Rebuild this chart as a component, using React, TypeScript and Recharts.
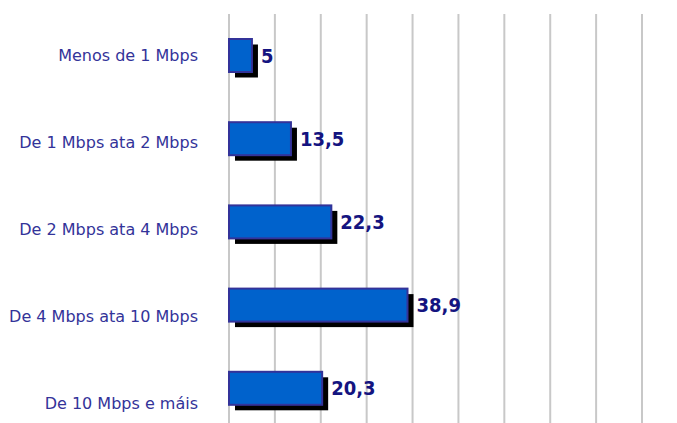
import React from "react";
import {
  BarChart,
  Bar,
  XAxis,
  YAxis,
  CartesianGrid,
  LabelList,
} from "recharts";

const categories = [
  "Menos de 1 Mbps",
  "De 1 Mbps ata 2 Mbps",
  "De 2 Mbps ata 4 Mbps",
  "De 4 Mbps ata 10 Mbps",
  "De 10 Mbps e máis",
];
const values = [5, 13.5, 22.3, 38.9, 20.3];
const xTicks = [0, 10, 20, 30, 40, 50, 60, 70, 80, 90];

const data = categories.map((name, i) => ({ name, value: values[i] }));

// bar with a hard black drop shadow behind it
const ShadowBar = (props: any) => {
  const { x, y, width, height } = props;
  return (
    <g>
      <rect x={x + 6} y={y + 5.5} width={width} height={height} fill="#000" />
      <rect
        x={x}
        y={y}
        width={width}
        height={height}
        fill="#0062cc"
        stroke="#333399"
        strokeWidth={2}
      />
    </g>
  );
};

const CategoryTick = (props: any) => {
  const { x, y, payload, index } = props;
  return (
    <text
      x={x - 31}
      y={y + index * 3.6}
      dy="0.36em"
      textAnchor="end"
      fill="#333399"
      fontSize={16}
      fontFamily="DejaVu Sans"
    >
      {payload.value}
    </text>
  );
};

export default function App() {
  return (
    <div
      style={{
        position: "fixed",
        top: 0,
        left: 0,
        width: 677,
        height: 423,
        overflow: "hidden",
        background: "#fff",
      }}
    >
      <BarChart
        width={677}
        height={430}
        data={data}
        layout="vertical"
        margin={{ top: 14, right: 35, left: 0, bottom: 0 }}
        barSize={33}
      >
        <CartesianGrid
          horizontal={false}
          vertical={true}
          stroke="#c8c8c8"
          strokeWidth={2}
        />
        <XAxis type="number" domain={[0, 90]} ticks={xTicks} hide />
        <YAxis
          type="category"
          dataKey="name"
          width={229}
          tickLine={false}
          axisLine={false}
          tickSize={0}
          tickMargin={0}
          tick={<CategoryTick />}
        />
        <Bar dataKey="value" shape={<ShadowBar />} isAnimationActive={false}>
          <LabelList
            dataKey="value"
            position="right"
            offset={9}
            formatter={(v: any) => String(v).replace(".", ",")}
            fill="#141480"
            fontSize={20}
            fontWeight="bold"
            fontFamily="DejaVu Sans Condensed, DejaVu Sans"
          />
        </Bar>
      </BarChart>
    </div>
  );
}
